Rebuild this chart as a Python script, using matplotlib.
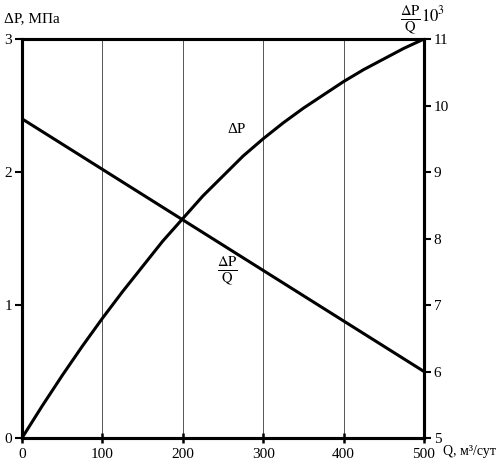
import matplotlib.pyplot as plt

plt.rcParams['font.family'] = ['Liberation Serif', 'DejaVu Serif']
plt.rcParams['mathtext.fontset'] = 'stix'

# ΔP, МПа vs Q
q = [0, 25, 50, 75, 100, 125, 150, 175, 200, 225, 250, 275, 300,
     325, 350, 375, 400, 425, 450, 475, 500]
dp = [0.0, 0.24, 0.47, 0.69, 0.90, 1.10, 1.29, 1.48, 1.65, 1.82, 1.97, 2.12, 2.25,
      2.37, 2.48, 2.58, 2.68, 2.77, 2.85, 2.93, 3.0]

# ΔP/Q ·10^3 (right axis)
q_line = [0, 500]
dpq = [9.8, 6.0]

x_ticks = [0, 100, 200, 300, 400, 500]
left_ticks = [0, 1, 2, 3]
right_ticks = [5, 6, 7, 8, 9, 10, 11]

fig = plt.figure(figsize=(4.96, 4.65), dpi=100)
ax = fig.add_axes([22 / 496, 1 - 438 / 465, (424 - 22) / 496, (438 - 39) / 465])
ax2 = ax.twinx()

ax.plot(q, dp, color='black', lw=2.2, solid_joinstyle='round')
ax2.plot(q_line, dpq, color='black', lw=2.2)

ax.set_xlim(0, 500)
ax.set_ylim(0, 3)
ax2.set_ylim(5, 11)

for xv in x_ticks[1:-1]:
    ax.axvline(xv, color='#555555', lw=0.7, zorder=0)

for a in (ax, ax2):
    for s in a.spines.values():
        s.set_linewidth(2.2)

ax.set_xticks(x_ticks)
ax.set_yticks(left_ticks)
ax2.set_yticks(right_ticks)
ax.tick_params(axis='x', direction='inout', length=7, width=1.8, labelsize=11, pad=4)
ax.tick_params(axis='y', direction='out', length=5, width=1.5, labelsize=11, pad=2)
ax2.tick_params(axis='y', direction='out', length=5, width=1.5, labelsize=11, pad=2)

ax.text(267, 2.32, 'ΔP', fontsize=11, ha='center', va='center')
ax.text(256, 1.26, r'$\frac{\Delta\mathrm{P}}{\mathrm{Q}}$', fontsize=15, ha='center', va='center')

fig.text(4 / 496, 1 - 19 / 465, 'ΔP, МПа', fontsize=11, ha='left', va='center')
fig.text(410 / 496, 1 - 20 / 465, r'$\frac{\Delta\mathrm{P}}{\mathrm{Q}}$', fontsize=15, ha='center', va='center')
fig.text(421 / 496, 1 - 15 / 465, r'$10^3$', fontsize=12, ha='left', va='center')
fig.text(443 / 496, 1 - 451 / 465, 'Q, м³/сут', fontsize=10, ha='left', va='center')

plt.savefig('out.png', dpi=100)
